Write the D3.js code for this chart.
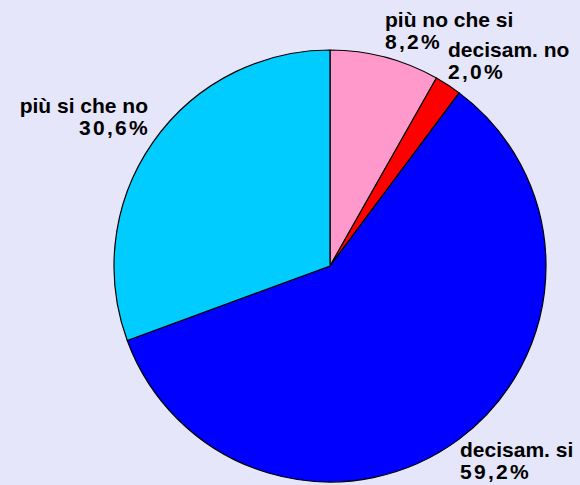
<!DOCTYPE html>
<html>
<head>
<meta charset="utf-8">
<script src="https://cdn.jsdelivr.net/npm/d3@7"></script>
<style>
  html, body { margin: 0; padding: 0; background: #E6E6FA; }
  svg text { font-family: "Liberation Sans", Arial, sans-serif; font-weight: bold; fill: #000; }
</style>
</head>
<body>
<div id="chart"></div>
<script>
// data, clockwise from 12 o'clock
var categories = ["più no che si", "decisam. no", "decisam. si", "più si che no"],
    values = [8.2, 2.0, 59.2, 30.6],
    valueLabels = ["8,2%", "2,0%", "59,2%", "30,6%"];

var colors = ["#FF99CC", "#FF0000", "#0000FF", "#00CCFF"];

var width = 580,
    height = 485,
    cx = 330,
    cy = 266,
    radius = 216;

// label placement relative to pie center (Excel style, outside the slices)
var labelLayout = [
    {dx: 55,   dy: -239, anchor: "start"},
    {dx: 118,  dy: -209, anchor: "start"},
    {dx: 130,  dy: 191,  anchor: "start"},
    {dx: -182, dy: -153, anchor: "end"}
];

var svg = d3.select("#chart")
    .append("svg")
    .attr("width", width)
    .attr("height", height);

svg.append("rect")
    .attr("width", width)
    .attr("height", height)
    .attr("fill", "#E6E6FA");

var pie = d3.pie()
    .sort(null)
    .value(function(d){ return d.val; });

var arc = d3.arc()
    .innerRadius(0)
    .outerRadius(radius);

var pieData = pie(categories.map(function(c, i){
    return {cat: c, val: values[i], label: valueLabels[i], idx: i};
}));

var g = svg.append("g")
    .attr("transform", "translate(" + cx + "," + cy + ")");

g.selectAll("path")
    .data(pieData)
    .enter()
    .append("path")
    .attr("d", arc)
    .attr("fill", function(d){ return colors[d.data.idx]; })
    .attr("stroke", "#000")
    .attr("stroke-width", 1.2)
    .attr("stroke-linejoin", "round");

var labels = g.selectAll(".label")
    .data(pieData)
    .enter()
    .append("text")
    .attr("class", "label")
    .attr("font-size", "21px")
    .attr("text-anchor", function(d){ return labelLayout[d.data.idx].anchor; })
    .attr("transform", function(d){
        var l = labelLayout[d.data.idx];
        return "translate(" + l.dx + "," + l.dy + ")";
    });

labels.append("tspan")
    .attr("x", 0)
    .attr("y", 0)
    .text(function(d){ return d.data.cat; });

// percentages are spaced wider in the original
labels.append("tspan")
    .attr("x", function(d){ return labelLayout[d.data.idx].anchor == "end" ? 2 : 0; })
    .attr("y", 22)
    .attr("letter-spacing", "2.3px")
    .text(function(d){ return d.data.label; });
</script>
</body>
</html>
